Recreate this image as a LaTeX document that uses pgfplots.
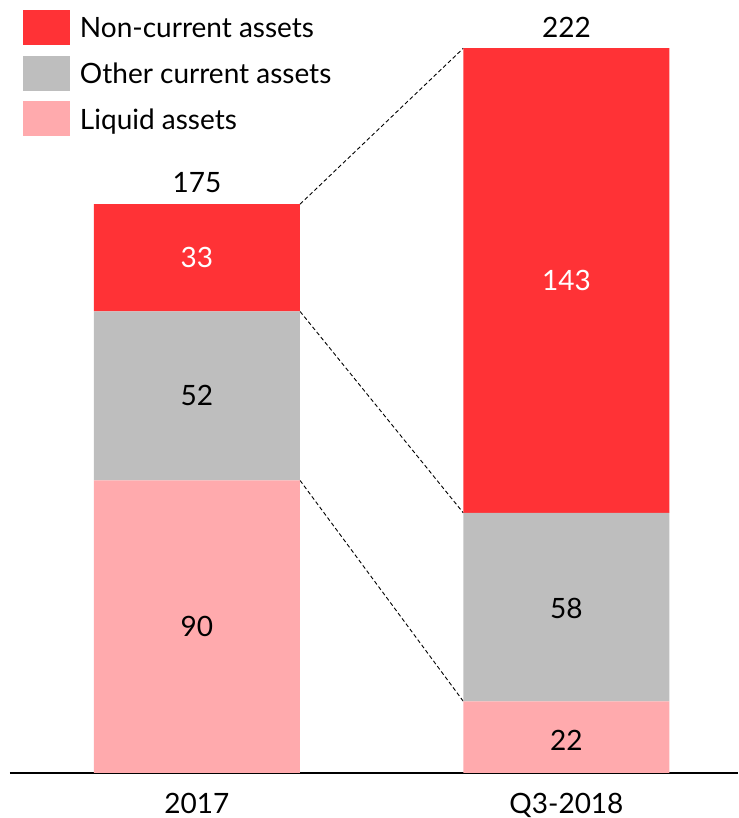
\documentclass[border=0pt]{standalone}
\usepackage{fontspec}
\setmainfont{Lato}
\usepackage{pgfplots}
\pgfplotsset{compat=1.18}

\definecolor{ncred}{HTML}{FF3236}
\definecolor{ocgray}{HTML}{BEBEBE}
\definecolor{lqpink}{HTML}{FFAAAD}

\tikzset{vlab/.style={font=\fontsize{14}{16}\selectfont, inner sep=0pt}}

\begin{document}
\begin{tikzpicture}
\path (0,0) rectangle (369pt,409pt);
\begin{axis}[
    at={(5pt,22.5pt)}, anchor=south west,
    scale only axis,
    width=364pt, height=386.5pt,
    xmin=-0.506, xmax=1.464,
    ymin=0, ymax=237.85,
    ybar stacked, bar width=103pt,
    axis x line=bottom,
    hide y axis,
    axis line style={-, line width=1pt, black},
    xtick={0,1}, xticklabels={2017,Q3-2018},
    ytick=\empty,
    major tick length=0pt,
    xticklabel style={font=\fontsize{14}{16}\selectfont, anchor=base, yshift=-20.5pt, inner sep=0pt},
    clip=false,
    reverse legend,
    legend cell align=left,
    legend style={draw=none, fill=none, inner sep=0pt, outer sep=0pt,
        at={(0,1)}, anchor=north west,
        xshift=6.5pt, yshift=-5pt,
        row sep=5.3pt,
        font=\fontsize{14}{16}\selectfont,
        nodes={inner sep=0pt},
        /tikz/every odd column/.append style={column sep=5pt}},
    legend image code/.code={\fill[#1] (0pt,-7.9pt) rectangle (23.5pt,9.6pt);},
]
% liquid assets
\addplot[fill=lqpink, draw=none] coordinates {(0,90) (1,22)};
\addlegendentry{Liquid assets}
% other current assets
\addplot[fill=ocgray, draw=none] coordinates {(0,52) (1,58)};
\addlegendentry{Other current assets}
% non-current assets
\addplot[fill=ncred, draw=none] coordinates {(0,33) (1,143)};
\addlegendentry{Non-current assets}

% connectors between the bars
\draw[black, line width=0.45pt, dash pattern=on 2pt off 1.3pt]
    (axis cs:0.279,175) -- (axis cs:0.721,223)
    (axis cs:0.279,142) -- (axis cs:0.721,80)
    (axis cs:0.279,90) -- (axis cs:0.721,22);

% anchor points for the value labels
\coordinate (l90) at (axis cs:0,45);
\coordinate (l52) at (axis cs:0,116);
\coordinate (l33) at (axis cs:0,158.5);
\coordinate (l22) at (axis cs:1,10);
\coordinate (l58) at (axis cs:1,50.5);
\coordinate (l143) at (axis cs:1,151.5);
\coordinate (t175) at (axis cs:0,175);
\coordinate (t222) at (axis cs:1,223);
\end{axis}

% segment values
\node[vlab] at (l90) {90};
\node[vlab] at (l52) {52};
\node[vlab, text=white] at (l33) {33};
\node[vlab] at (l22) {22};
\node[vlab] at (l58) {58};
\node[vlab, text=white] at (l143) {143};
% totals
\node[vlab, anchor=base, yshift=6pt] at (t175) {175};
\node[vlab, anchor=base, yshift=5.5pt] at (t222) {222};
\end{tikzpicture}
\end{document}
